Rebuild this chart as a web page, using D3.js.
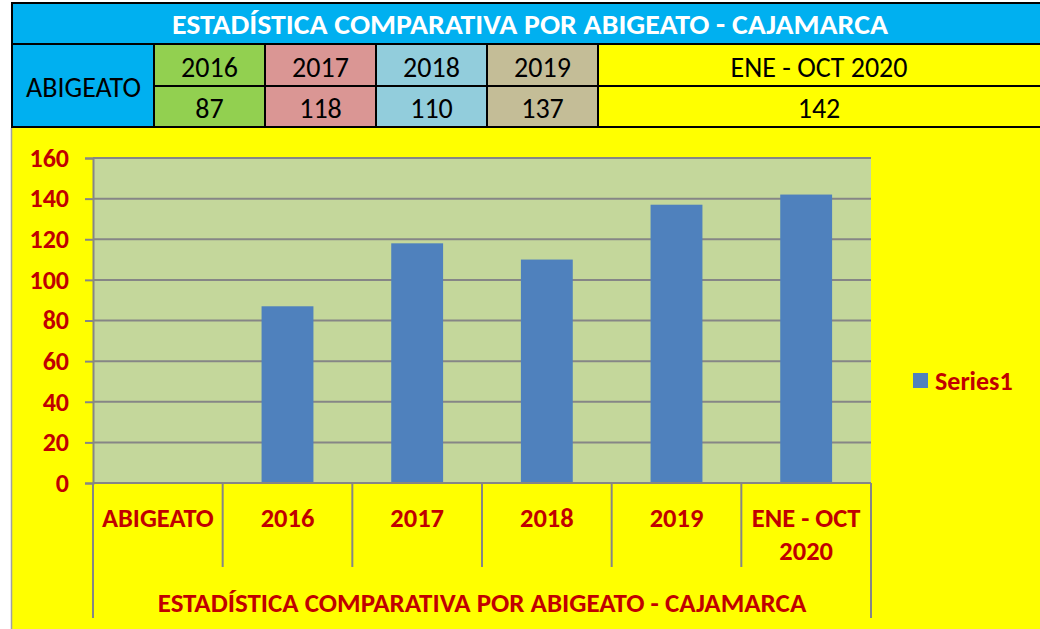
<!DOCTYPE html>
<html>
<head>
<meta charset="utf-8">
<script src="https://cdn.jsdelivr.net/npm/d3@7"></script>
<style>
  body { margin: 0; background: #fff; }
  svg { display: block; }
</style>
</head>
<body>
<svg id="mainsvg" width="1040" height="629"></svg>
<script>
const title = 'ESTADÍSTICA COMPARATIVA POR ABIGEATO - CAJAMARCA'
const rowLabel = 'ABIGEATO'
const years = ['2016', '2017', '2018', '2019', 'ENE - OCT 2020']
const counts = [87, 118, 110, 137, 142]
const cellColors = ['#92D050', '#DA9694', '#92CDDC', '#C4BD97', '#FFFF00']

const categories = ['ABIGEATO', '2016', '2017', '2018', '2019', 'ENE - OCT 2020']
const series1 = [null, 87, 118, 110, 137, 142]
const yTicks = [0, 20, 40, 60, 80, 100, 120, 140, 160]
const seriesName = 'Series1'

const font = 'Calibri, Carlito, "Open Sans", sans-serif'
const red = '#C00000'
const svg = d3.select('#mainsvg')

// ---- table on top
const tbl = svg.append('g')
const colX = [11, 154, 265, 376, 487, 598, 1045]

tbl.append('rect').attr('x', 11).attr('y', 3).attr('width', 1040).attr('height', 41).attr('fill', '#00B0F0')
tbl.append('rect').attr('x', 11).attr('y', 44).attr('width', colX[1] - 11).attr('height', 83).attr('fill', '#00B0F0')
years.forEach((y, i) => {
  let cx = (colX[i + 1] + (i == 4 ? 1040 : colX[i + 2])) / 2
  tbl.append('rect').attr('x', colX[i + 1]).attr('y', 44)
    .attr('width', colX[i + 2] - colX[i + 1]).attr('height', 83).attr('fill', cellColors[i])
  tbl.append('text').attr('x', cx).attr('y', 67)
    .attr('text-anchor', 'middle').attr('dominant-baseline', 'central')
    .style('font-family', font).style('font-size', '28px').text(y)
  tbl.append('text').attr('x', cx).attr('y', 108)
    .attr('text-anchor', 'middle').attr('dominant-baseline', 'central')
    .style('font-family', font).style('font-size', '28px').text(counts[i])
})
tbl.append('text').attr('x', (11 + colX[1]) / 2 + 1).attr('y', 87)
  .attr('text-anchor', 'middle').attr('dominant-baseline', 'central')
  .style('font-family', font).style('font-size', '28px').text(rowLabel)
tbl.append('text').attr('x', 530).attr('y', 24)
  .attr('text-anchor', 'middle').attr('dominant-baseline', 'central')
  .attr('fill', '#fff').style('font-weight', 'bold')
  .style('font-family', font).style('font-size', '28px')
  .attr('textLength', 716).attr('lengthAdjust', 'spacingAndGlyphs')
  .text(title)

// grid lines of the table
const tl = (x1, y1, x2, y2) => tbl.append('line').attr('x1', x1).attr('y1', y1).attr('x2', x2).attr('y2', y2)
  .attr('stroke', '#000').attr('stroke-width', 2)
tl(11, 3, 1045, 3)
tl(11, 44, 1045, 44)
tl(colX[1], 86, 1045, 86)
tl(11, 127, 1045, 127)
tl(12, 3, 12, 127)
colX.slice(1, 6).forEach(x => tl(x, 44, x, 127))

// ---- chart area
const chart = svg.append('g')
chart.append('rect').attr('x', 12).attr('y', 128).attr('width', 1030).attr('height', 503).attr('fill', '#FFFF00')
chart.append('line').attr('x1', 11.5).attr('x2', 11.5).attr('y1', 128).attr('y2', 629)
  .attr('stroke', '#A0A0A0').attr('stroke-width', 1.5)

const plot = {left: 93, right: 871, top: 158, bottom: 483}
const x = d3.scaleBand().domain(categories).range([plot.left, plot.right])
const y = d3.scaleLinear().domain([0, 160]).range([plot.bottom, plot.top])

chart.append('rect').attr('x', plot.left).attr('y', plot.top)
  .attr('width', plot.right - plot.left).attr('height', plot.bottom - plot.top).attr('fill', '#C4D79B')

// gridlines
chart.append('g').selectAll('line').data(yTicks.slice(1)).join('line')
  .attr('x1', plot.left).attr('x2', plot.right)
  .attr('y1', d => y(d)).attr('y2', d => y(d))
  .attr('stroke', '#868686').attr('stroke-width', 2)

// bars
const barW = x.bandwidth() * 0.4
chart.append('g').selectAll('rect').data(categories.map((c, i) => ({c, v: series1[i]})).filter(d => d.v != null))
  .join('rect')
  .attr('x', d => x(d.c) + (x.bandwidth() - barW) / 2)
  .attr('y', d => y(d.v))
  .attr('width', barW)
  .attr('height', d => y(0) - y(d.v))
  .attr('fill', '#4F81BD')

// y axis
const yAxis = chart.append('g').attr('transform', `translate(${plot.left},0)`)
  .call(d3.axisLeft(y).tickValues(yTicks).tickSize(8).tickPadding(16))
yAxis.select('.domain').attr('stroke', '#868686').attr('stroke-width', 2)
yAxis.selectAll('.tick line').attr('stroke', '#868686').attr('stroke-width', 2)
yAxis.selectAll('.tick text').attr('fill', red)
  .style('font-family', font).style('font-size', '26px').style('font-weight', 'bold')

// x axis base line
chart.append('line').attr('x1', plot.left).attr('x2', plot.right)
  .attr('y1', plot.bottom).attr('y2', plot.bottom)
  .attr('stroke', '#868686').attr('stroke-width', 2)

// category separators
const seps = categories.map(c => x(c)).concat([plot.right])
chart.append('g').selectAll('line').data(seps).join('line')
  .attr('x1', d => d).attr('x2', d => d)
  .attr('y1', plot.bottom)
  .attr('y2', (d, i) => (i == 0 || i == seps.length - 1) ? 618 : 567)
  .attr('stroke', '#868686').attr('stroke-width', 2)

// category labels
const catLines = c => c == 'ENE - OCT 2020' ? ['ENE - OCT', '2020'] : [c]
const lab = chart.append('g').selectAll('text').data(categories).join('text')
  .attr('x', d => x(d) + x.bandwidth() / 2)
  .attr('y', 518)
  .attr('text-anchor', 'middle').attr('dominant-baseline', 'central')
  .attr('fill', red).style('font-family', font).style('font-size', '26.5px').style('font-weight', 'bold')
lab.selectAll('tspan').data(d => catLines(d)).join('tspan')
  .attr('x', function() { return d3.select(this.parentNode).attr('x') })
  .attr('dy', (d, i) => i == 0 ? 0 : 33)
  .text(d => d)

chart.append('text').attr('x', (plot.left + plot.right) / 2).attr('y', 602)
  .attr('text-anchor', 'middle').attr('dominant-baseline', 'central')
  .attr('fill', red).style('font-family', font).style('font-size', '27px').style('font-weight', 'bold')
  .text(title)

// legend
chart.append('rect').attr('x', 913).attr('y', 373).attr('width', 15).attr('height', 15).attr('fill', '#4F81BD')
chart.append('text').attr('x', 935).attr('y', 381).attr('dominant-baseline', 'central')
  .attr('fill', red).style('font-family', font).style('font-size', '26px').style('font-weight', 'bold')
  .text(seriesName)
</script>
</body>
</html>
